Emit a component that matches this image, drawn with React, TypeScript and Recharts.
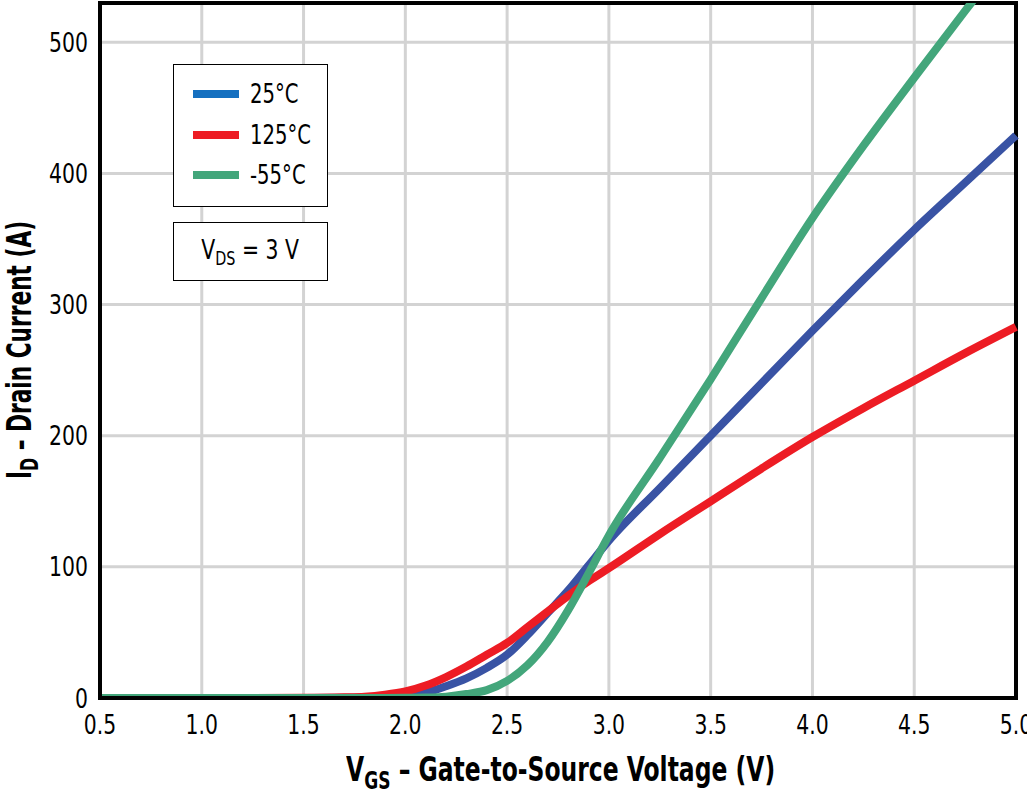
import {
  CartesianGrid,
  Line,
  LineChart,
  ReferenceArea,
  XAxis,
  YAxis,
} from 'recharts';

const vgs = [
  0.5, 1.0, 1.5, 1.7, 1.8, 1.9, 2.0, 2.1, 2.2, 2.3, 2.4, 2.5, 2.6, 2.7, 2.8, 2.9, 3.0, 3.25, 3.5,
  3.75, 4.0, 4.25, 4.5, 4.75, 5.0,
];

// ID (A), one value per vgs entry
const id25 = [
  0, 0, 0, 0.1, 0.3, 0.7, 1.5, 4, 9, 15, 23, 33, 48, 65, 82, 101, 120, 160, 200, 240, 280, 319,
  357, 393, 429,
];
const id125 = [
  0, 0, 0.1, 0.5, 1, 2.5, 5, 9.5, 16, 24, 33, 42, 54, 66, 78, 89, 99, 125, 150, 175, 199, 221,
  242, 263, 283,
];
const idMinus55 = [
  0, 0, 0, 0, 0, 0, 0.1, 0.3, 1, 3, 6, 13, 25, 43, 67, 95, 124, 183, 243, 305, 366, 421, 473,
  524, 574,
];

const xTicks = [0.5, 1.0, 1.5, 2.0, 2.5, 3.0, 3.5, 4.0, 4.5, 5.0];
const yTicks = [0, 100, 200, 300, 400, 500];

const series = [
  { key: 't25', label: '25°C', color: '#3953a4', swatch: '#1570c0' },
  { key: 't125', label: '125°C', color: '#ed1c24', swatch: '#ed1c24' },
  { key: 'tm55', label: '-55°C', color: '#43a67b', swatch: '#43a67b' },
];

const data = vgs.map((v, i) => ({
  vgs: v,
  t25: id25[i],
  t125: id125[i],
  tm55: idMinus55[i],
}));

const FONT = '"DejaVu Sans", sans-serif';
const SQUEEZE = 0.84; // the original face is a condensed one, so narrow DejaVu a bit more

// eslint-disable-next-line @typescript-eslint/no-explicit-any
const XTick = (props: any) => {
  const { x, y, payload } = props;
  return (
    <g transform={`translate(${x},${y})`}>
      <text
        transform={`scale(${SQUEEZE},1)`}
        textAnchor="middle"
        dy="0.71em"
        fontSize={27}
        fontFamily={FONT}
        fontStretch="condensed"
        fill="#000"
      >
        {Number(payload.value).toFixed(1)}
      </text>
    </g>
  );
};

// eslint-disable-next-line @typescript-eslint/no-explicit-any
const YTick = (props: any) => {
  const { x, y, payload } = props;
  return (
    <g transform={`translate(${x},${y})`}>
      <text
        transform={`scale(${SQUEEZE},1)`}
        textAnchor="end"
        dy="0.355em"
        fontSize={27}
        fontFamily={FONT}
        fontStretch="condensed"
        fill="#000"
      >
        {payload.value}
      </text>
    </g>
  );
};

export default function App() {
  return (
    <div
      style={{
        position: 'relative',
        width: 1027,
        height: 796,
        fontFamily: FONT,
        fontStretch: 'condensed',
      }}
    >
      <style>{'body{margin:0}'}</style>
      <LineChart
        width={1027}
        height={796}
        data={data}
        margin={{ top: 3, right: 11, bottom: 0, left: 0 }}
      >
        <CartesianGrid stroke="#d3d3d3" strokeWidth={3} />
        <XAxis
          dataKey="vgs"
          type="number"
          domain={[0.5, 5]}
          ticks={xTicks}
          tick={<XTick />}
          tickLine={false}
          tickSize={0}
          tickMargin={17}
          axisLine={{ stroke: '#000', strokeWidth: 4 }}
          height={98}
          interval={0}
        />
        <YAxis
          type="number"
          domain={[0, 530]}
          ticks={yTicks}
          allowDataOverflow
          tick={<YTick />}
          tickLine={false}
          tickSize={0}
          tickMargin={12}
          axisLine={{ stroke: '#000', strokeWidth: 4 }}
          width={100}
          interval={0}
        />
        <ReferenceArea
          x1={0.5}
          x2={5}
          y1={0}
          y2={530}
          fill="none"
          stroke="#000"
          strokeWidth={4}
        />
        {series.map((s) => (
          <Line
            key={s.key}
            dataKey={s.key}
            type="monotone"
            stroke={s.color}
            strokeWidth={8}
            dot={false}
            activeDot={false}
            isAnimationActive={false}
          />
        ))}
      </LineChart>

      {/* legend box */}
      <div
        style={{
          position: 'absolute',
          left: 173,
          top: 64,
          width: 153,
          height: 141,
          border: '1.5px solid #000',
          background: '#fff',
        }}
      >
        {series.map((s, i) => (
          <div
            key={s.key}
            style={{
              position: 'absolute',
              left: 19,
              top: 14 + i * 40.5,
              height: 30,
              display: 'flex',
              alignItems: 'center',
            }}
          >
            <span style={{ width: 46, height: 8, background: s.swatch, display: 'inline-block' }} />
            <span
              style={{
                marginLeft: 11,
                fontSize: 26,
                color: '#000',
                display: 'inline-block',
                transform: `scaleX(${SQUEEZE})`,
                transformOrigin: 'left center',
              }}
            >
              {s.label}
            </span>
          </div>
        ))}
      </div>

      {/* test condition box */}
      <div
        style={{
          position: 'absolute',
          left: 173,
          top: 222,
          width: 153,
          height: 57,
          border: '1.5px solid #000',
          background: '#fff',
          display: 'flex',
          alignItems: 'center',
          justifyContent: 'center',
          fontSize: 27,
        }}
      >
        <span style={{ display: 'inline-block', transform: `scaleX(${SQUEEZE})` }}>
          V<sub style={{ fontSize: 19 }}>DS</sub> = 3 V
        </span>
      </div>

      {/* axis titles */}
      <div
        style={{
          position: 'absolute',
          left: 0,
          width: 1122,
          top: 750,
          textAlign: 'center',
        }}
      >
        <span
          style={{
            display: 'inline-block',
            fontSize: 33,
            fontWeight: 'bold',
            whiteSpace: 'nowrap',
            transform: 'scaleX(0.79)',
          }}
        >
          V<sub style={{ fontSize: 24 }}>GS</sub> – Gate-to-Source Voltage (V)
        </span>
      </div>
      <div
        style={{
          position: 'absolute',
          left: 22,
          top: 350,
          transform: 'translate(-50%, -50%) rotate(-90deg) scaleX(0.73)',
          fontSize: 33,
          fontWeight: 'bold',
          whiteSpace: 'nowrap',
        }}
      >
        I<sub style={{ fontSize: 24 }}>D</sub> – Drain Current (A)
      </div>
    </div>
  );
}
